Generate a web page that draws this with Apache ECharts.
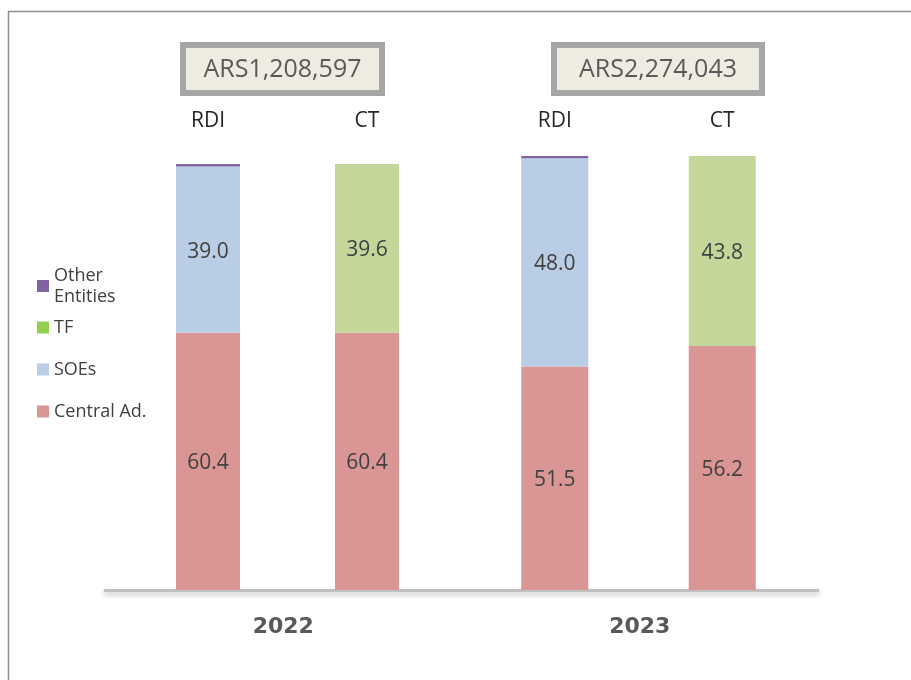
<!DOCTYPE html>
<html>
<head>
<meta charset="utf-8">
<script src="https://cdn.jsdelivr.net/npm/echarts@6/dist/echarts.min.js"></script>
<style>
  html, body { margin: 0; padding: 0; background: #fff; }
  #chart { width: 911px; height: 680px; }
</style>
</head>
<body>
<div id="chart"></div>
<script>
// data
const years = ['2022', '2023'];
const groups = ['RDI', 'CT'];
const totals = ['ARS1,208,597', 'ARS2,274,043'];
const centralAd = [[60.4, 60.4], [51.5, 56.2]];
const soes = [[39.0, null], [48.0, null]];
const tf = [[null, 39.6], [null, 43.8]];
const otherEntities = [[0.6, null], [0.5, null]];

const FONT = 'Open Sans';
const colors = {
  'Central Ad.': '#d99694',
  'SOEs': '#b9cde5',
  'TF': '#c4d79b',
  'Other Entities': '#8064a2'
};

let myChart = echarts.init(document.getElementById('chart'));

const gridSpec = [
  {left: 128.5, width: 318, top: 164, bottom: 90, barWidth: 64, margin: 32},
  {left: 471, width: 335, top: 156, bottom: 90, barWidth: 67, margin: 24}
];

let grids = [], xAxes = [], yAxes = [], series = [];
gridSpec.forEach(function (g, i) {
  grids.push({left: g.left, width: g.width, top: g.top, bottom: g.bottom});
  xAxes.push({
    type: 'category', gridIndex: i, position: 'top', data: groups,
    axisLine: {show: false}, axisTick: {show: false},
    axisLabel: {margin: g.margin, fontFamily: FONT, fontSize: 21, color: '#262626'}
  });
  yAxes.push({type: 'value', gridIndex: i, min: 0, max: 100, show: false});
  let label = {
    show: true, position: 'inside', fontFamily: FONT, fontSize: 21, color: '#404040',
    offset: [0, 2],
    formatter: p => p.value == null ? '' : p.value.toFixed(1)
  };
  [['Central Ad.', centralAd[i]], ['SOEs', soes[i]], ['TF', tf[i]], ['Other Entities', otherEntities[i]]]
    .forEach(function (s) {
      series.push({
        name: s[0], type: 'bar', stack: 'y' + i, xAxisIndex: i, yAxisIndex: i,
        barWidth: g.barWidth, data: s[1],
        itemStyle: {color: colors[s[0]]},
        label: s[0] === 'Other Entities' ? {show: false} : label
      });
    });
});

// baseline + year labels
grids.push({left: 105, width: 713, top: 156, bottom: 90});
xAxes.push({
  type: 'category', gridIndex: 2, data: years,
  axisLine: {lineStyle: {color: '#c0c0c0', width: 3, shadowBlur: 5, shadowColor: 'rgba(0,0,0,0.25)', shadowOffsetY: 3}},
  axisTick: {show: false},
  axisLabel: {margin: 26, fontFamily: 'DejaVu Sans', fontSize: 22, fontWeight: 'bold', color: '#595959'}
});
yAxes.push({type: 'value', gridIndex: 2, show: false});

const legendText = {fontFamily: FONT, fontSize: 18, color: '#404040', lineHeight: 21};

let option = {
  animation: false,
  backgroundColor: '#fff',
  grid: grids,
  xAxis: xAxes,
  yAxis: yAxes,
  legend: [
    {
      orient: 'vertical', left: 37, top: 265, padding: 0,
      icon: 'rect', itemWidth: 12, itemHeight: 12, itemGap: 21,
      selectedMode: false, textStyle: legendText,
      formatter: n => n.replace(' ', '\n'),
      data: [{name: 'Other Entities', itemStyle: {color: '#8064a2'}}]
    },
    {
      orient: 'vertical', left: 37, top: 317, padding: 0,
      icon: 'rect', itemWidth: 12, itemHeight: 12, itemGap: 21,
      selectedMode: false, textStyle: legendText,
      data: [
        {name: 'TF', itemStyle: {color: '#92d050'}},
        {name: 'SOEs', itemStyle: {color: '#b9cde5'}},
        {name: 'Central Ad.', itemStyle: {color: '#d99694'}}
      ]
    }
  ],
  graphic: [
    {type: 'rect', shape: {x: 8.5, y: 11.5, width: 1000, height: 1000}, style: {fill: 'none', stroke: '#8f8f8f', lineWidth: 1.5}, silent: true},
    {type: 'rect', shape: {x: 183, y: 45, width: 199, height: 48}, style: {fill: '#eeece1', stroke: '#a6a6a6', lineWidth: 6}},
    {type: 'text', x: 282.5, y: 70, style: {text: totals[0], fontFamily: FONT, fontSize: 25, fill: '#595959', textAlign: 'center', textVerticalAlign: 'middle'}},
    {type: 'rect', shape: {x: 554, y: 45, width: 208, height: 48}, style: {fill: '#eeece1', stroke: '#a6a6a6', lineWidth: 6}},
    {type: 'text', x: 658, y: 70, style: {text: totals[1], fontFamily: FONT, fontSize: 25, fill: '#595959', textAlign: 'center', textVerticalAlign: 'middle'}}
  ],
  series: series
};

myChart.setOption(option);
</script>
</body>
</html>
